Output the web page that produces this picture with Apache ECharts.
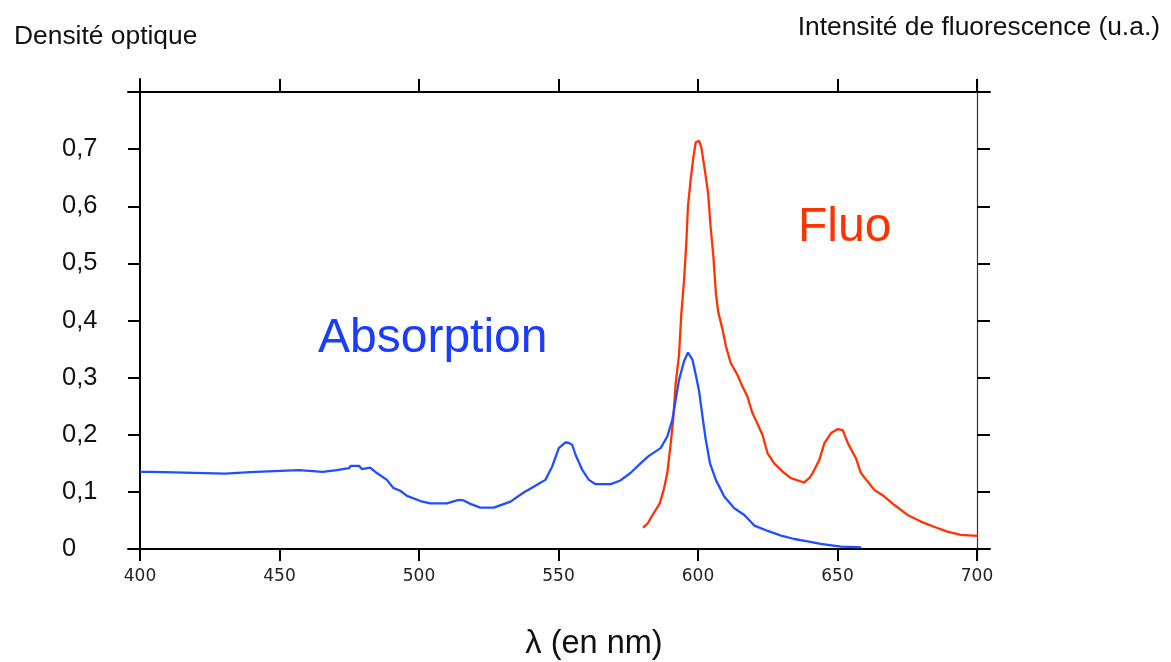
<!DOCTYPE html>
<html>
<head>
<meta charset="utf-8">
<title>Absorption et fluorescence</title>
<script src="https://cdn.jsdelivr.net/npm/echarts@6/dist/echarts.min.js"></script>
<style>
  html, body { margin: 0; padding: 0; background: #ffffff; }
  #chart { width: 1171px; height: 662px; }
</style>
</head>
<body>
<div id="chart"></div>
<script>
// Spectre d'absorption (densité optique) en fonction de la longueur d'onde (nm)
const absWavelength = [
  400.0, 404.5, 405.0, 430.5, 431.0, 439.5, 440.0, 457.0, 457.5, 465.5,
  466.0, 470.5, 471.0, 475.0, 475.5, 478.5, 479.5, 482.5, 484.9, 488.5,
  490.9, 493.3, 495.7, 500.5, 504.0, 510.0, 514.2, 516.0, 518.4, 522.0,
  526.8, 532.8, 537.5, 541.1, 545.3, 547.7, 550.1, 552.5, 553.5, 554.9,
  556.1, 558.5, 560.9, 563.3, 568.7, 572.2, 575.8, 579.4, 582.4, 586.6,
  589.0, 590.8, 592.0, 593.2, 595.0, 596.4, 598.0, 599.2, 600.4, 601.6,
  602.8, 604.3, 606.4, 609.4, 613.0, 616.6, 620.2, 625.0, 629.8, 634.5,
  639.3, 644.0, 651.2, 658.5
];
const absValue = [
  0.135, 0.135, 0.132, 0.132, 0.1345, 0.1345, 0.138, 0.138, 0.135, 0.135,
  0.138, 0.138, 0.1415, 0.1415, 0.1456, 0.1456, 0.140, 0.1425, 0.133, 0.121,
  0.1065, 0.102, 0.093, 0.084, 0.080, 0.080, 0.086, 0.085, 0.079, 0.0725,
  0.0725, 0.083, 0.0988, 0.109, 0.121, 0.144, 0.1766, 0.1865, 0.186, 0.1825,
  0.165, 0.1386, 0.121, 0.1135, 0.1135, 0.120, 0.133, 0.150, 0.163, 0.1766,
  0.197, 0.226, 0.261, 0.296, 0.3286, 0.344, 0.3316, 0.305, 0.276, 0.232,
  0.191, 0.150, 0.121, 0.0918, 0.0714, 0.0596, 0.041, 0.0316, 0.0234, 0.0175,
  0.0135, 0.009, 0.004, 0.003
];

// Spectre d'émission de fluorescence (unités arbitraires)
const fluoWavelength = [
  580.3, 582.0, 584.1, 586.3, 587.7, 589.0, 590.1, 591.1, 592.0, 593.2,
  594.0, 595.0, 595.8, 596.4, 597.4, 598.4, 599.2, 600.4, 601.2, 602.4,
  603.6, 604.5, 605.5, 606.4, 607.2, 608.8, 610.0, 611.7, 614.1, 615.9,
  617.7, 619.5, 620.7, 623.1, 624.9, 627.3, 630.3, 633.3, 638.0, 639.9,
  641.1, 643.5, 645.3, 647.7, 650.1, 651.9, 653.7, 656.6, 658.4, 660.8,
  663.2, 666.8, 670.4, 675.1, 679.9, 684.6, 689.4, 694.2, 700.2
];
const fluoValue = [
  0.0374, 0.045, 0.0626, 0.080, 0.1035, 0.133, 0.1795, 0.226, 0.290, 0.340,
  0.410, 0.470, 0.535, 0.600, 0.648, 0.688, 0.712, 0.7146, 0.703, 0.665,
  0.624, 0.565, 0.513, 0.4486, 0.416, 0.384, 0.355, 0.326, 0.305, 0.285,
  0.267, 0.238, 0.226, 0.200, 0.168, 0.150, 0.1357, 0.124, 0.1164, 0.124,
  0.133, 0.156, 0.1854, 0.203, 0.210, 0.208, 0.1854, 0.159, 0.133, 0.118,
  0.1035, 0.0918, 0.077, 0.0596, 0.048, 0.039, 0.0304, 0.0246, 0.0228
];

// Graduations
const xTicks = [400, 450, 500, 550, 600, 650, 700];
const yTicks = [0.1, 0.2, 0.3, 0.4, 0.5, 0.6, 0.7];
const yLabels = [0, 0.1, 0.2, 0.3, 0.4, 0.5, 0.6, 0.7];

// Cadre du tracé (px) et débord des axes au-delà de la zone de données
const plot = { left: 140, right: 977, top: 92, bottom: 549 };
const overhang = { left: 12, right: 13, top: 13, bottom: 8 };
const xRange = [400, 700];
const yRange = [0, 0.8];

const pxPerX = (plot.right - plot.left) / (xRange[1] - xRange[0]);
const pxPerY = (plot.bottom - plot.top) / (yRange[1] - yRange[0]);

const W = 1171, H = 662;
const BLUE = '#1f4fff';
const RED = '#ff3300';
const SANS = '"Liberation Sans", Arial, Helvetica, sans-serif';

const zip = (xs, ys) => xs.map((x, i) => [x, ys[i]]);

const chart = echarts.init(document.getElementById('chart'), null, { renderer: 'canvas' });

chart.setOption({
  animation: false,
  backgroundColor: '#ffffff',
  grid: {
    left: plot.left - overhang.left,
    right: W - (plot.right + overhang.right),
    top: plot.top - overhang.top,
    bottom: H - (plot.bottom + overhang.bottom),
    containLabel: false
  },
  xAxis: [
    {
      type: 'value',
      position: 'bottom',
      min: xRange[0] - overhang.left / pxPerX,
      max: xRange[1] + overhang.right / pxPerX,
      axisLine: { show: true, onZero: true, onZeroAxisIndex: 0, lineStyle: { color: '#000', width: 2 } },
      axisTick: { show: true, customValues: xTicks, length: 12, lineStyle: { color: '#000', width: 2 } },
      axisLabel: {
        show: true, customValues: xTicks, margin: 11,
        fontFamily: '"DejaVu Sans", sans-serif', fontSize: 17, color: '#222'
      },
      splitLine: { show: false }
    },
    {
      type: 'value',
      position: 'top',
      offset: -overhang.top,
      min: xRange[0] - overhang.left / pxPerX,
      max: xRange[1] + overhang.right / pxPerX,
      axisLine: { show: true, onZero: false, lineStyle: { color: '#000', width: 2 } },
      axisTick: { show: true, customValues: xTicks, length: 13, lineStyle: { color: '#000', width: 2 } },
      axisLabel: { show: false },
      splitLine: { show: false }
    }
  ],
  yAxis: [
    {
      type: 'value',
      position: 'left',
      offset: -overhang.left,
      min: yRange[0] - overhang.bottom / pxPerY,
      max: yRange[1] + overhang.top / pxPerY,
      axisLine: { show: true, onZero: false, lineStyle: { color: '#000', width: 2 } },
      axisTick: { show: true, customValues: yTicks, length: 12, lineStyle: { color: '#000', width: 2 } },
      axisLabel: {
        show: true, customValues: yLabels, margin: 78, align: 'left',
        fontFamily: SANS, fontSize: 25.5, color: '#111',
        formatter: v => String(Math.round(v * 10) / 10).replace('.', ',')
      },
      splitLine: { show: false }
    },
    {
      type: 'value',
      position: 'right',
      offset: -overhang.right,
      min: yRange[0] - overhang.bottom / pxPerY,
      max: yRange[1] + overhang.top / pxPerY,
      axisLine: { show: true, onZero: false, lineStyle: { color: '#333', width: 1.2 } },
      axisTick: { show: true, customValues: yTicks, length: 13, lineStyle: { color: '#000', width: 2 } },
      axisLabel: { show: false },
      splitLine: { show: false }
    }
  ],
  series: [
    {
      name: 'Absorption',
      type: 'line',
      xAxisIndex: 0,
      yAxisIndex: 0,
      data: zip(absWavelength, absValue),
      showSymbol: false,
      smooth: false,
      lineStyle: { color: BLUE, width: 2.3 },
      z: 3
    },
    {
      name: 'Fluo',
      type: 'line',
      xAxisIndex: 0,
      yAxisIndex: 0,
      data: zip(fluoWavelength, fluoValue),
      showSymbol: false,
      smooth: false,
      lineStyle: { color: RED, width: 2.3 },
      z: 2
    }
  ],
  graphic: [
    {
      type: 'text', left: 14, top: 24,
      style: { text: 'Densité optique', font: '26.4px ' + SANS, fill: '#111' }
    },
    {
      type: 'text', right: W - 1160, top: 15,
      style: { text: 'Intensité de fluorescence (u.a.)', font: '26.4px ' + SANS, fill: '#111' }
    },
    {
      type: 'text', left: 318, top: 315,
      style: { text: 'Absorption', font: '48px ' + SANS, fill: '#1a3cff' }
    },
    {
      type: 'text', left: 798, top: 204,
      style: { text: 'Fluo', font: '48px ' + SANS, fill: RED }
    },
    {
      type: 'text', x: 594, y: 644,
      style: { text: 'λ (en nm)', font: '32.5px ' + SANS, fill: '#111', align: 'center', verticalAlign: 'middle' }
    }
  ]
});
</script>
</body>
</html>
